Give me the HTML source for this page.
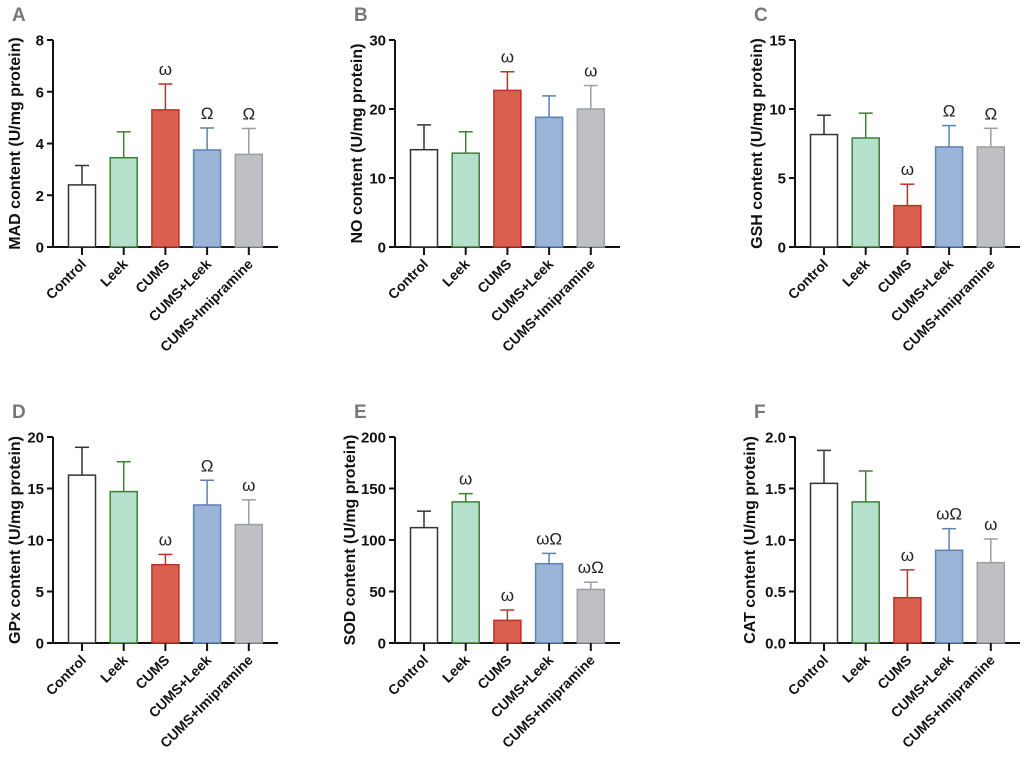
<!DOCTYPE html>
<html><head><meta charset="utf-8"><style>
body{margin:0;background:#fff}
svg{display:block;font-family:"Liberation Sans",Arial,sans-serif}
</style></head><body>
<svg id="s" width="1024" height="767"></svg>
<script>
const categories=["Control","Leek","CUMS","CUMS+Leek","CUMS+Imipramine"];
const panelLetters=["A","B","C","D","E","F"];
const yTitles=["MAD content (U/mg protein)","NO content (U/mg protein)","GSH content (U/mg protein)","GPx content (U/mg protein)","SOD content (U/mg protein)","CAT content (U/mg protein)"];
const yMax=[8,30,15,20,200,2];
const yTicks=[["0","2","4","6","8"],["0","10","20","30"],["0","5","10","15"],["0","5","10","15","20"],["0","50","100","150","200"],["0.0","0.5","1.0","1.5","2.0"]];
const meanA=[2.4,3.45,5.3,3.75,3.58], errA=[0.75,1.0,1.0,0.85,1.0], annA=["","","ω","Ω","Ω"];
const meanB=[14.1,13.6,22.7,18.8,20.0], errB=[3.6,3.1,2.7,3.1,3.4], annB=["","","ω","","ω"];
const meanC=[8.15,7.9,3.0,7.25,7.25], errC=[1.4,1.8,1.55,1.55,1.35], annC=["","","ω","Ω","Ω"];
const meanD=[16.3,14.7,7.6,13.4,11.5], errD=[2.7,2.9,1.0,2.4,2.4], annD=["","","ω","Ω","ω"];
const meanE=[112,137,22,77,52], errE=[16,8,10,10,7], annE=["","ω","ω","ωΩ","ωΩ"];
const meanF=[1.55,1.37,0.44,0.90,0.78], errF=[0.32,0.30,0.27,0.21,0.23], annF=["","","ω","ωΩ","ω"];
const means=[meanA,meanB,meanC,meanD,meanE,meanF];
const errs=[errA,errB,errC,errD,errE,errF];
const anns=[annA,annB,annC,annD,annE,annF];
const fills=["#ffffff","#b5e0cb","#d9604f","#9bb5d8","#bec0c3"];
const strokes=["#333333","#3d7f37","#c0302a","#5b82b3","#9c9ea0"];
const NS="http://www.w3.org/2000/svg";
const svgEl=document.getElementById('s');
function mk(t,a,p){const e=document.createElementNS(NS,t);for(const k in a)e.setAttribute(k,a[k]);(p||svgEl).appendChild(e);return e;}
const axX=[53,395,795], topY=[40,437], zeroY=[247,643];
for(let p=0;p<6;p++){
  const col=p%3,row=Math.floor(p/3);
  const x0=axX[col],yt=topY[row],yz=zeroY[row];
  const g=mk('g',{});
  
  
  const y=v=>yz-(v/yMax[p])*(yz-yt);
  const bx=i=>x0+29+i*41.7;
  const L=mk('text',{x:x0-41,y:yt-19,'font-size':19,'font-weight':'bold',fill:'#777'},g);L.textContent=panelLetters[p];
  
  
  mk('line',{x1:x0,y1:yt,x2:x0,y2:yz,stroke:'#111','stroke-width':2},g);
  mk('line',{x1:x0,y1:yz,x2:x0+225,y2:yz,stroke:'#111','stroke-width':2},g);
  const tk=yTicks[p];
  tk.forEach((t,i)=>{const v=yMax[p]*i/(tk.length-1);const yy=y(v);
    mk('line',{x1:x0-6,y1:yy,x2:x0,y2:yy,stroke:'#111','stroke-width':2},g);
    const tx=mk('text',{x:x0-9,y:yy+5.5,'font-size':15,'font-weight':'bold','text-anchor':'end',fill:'#111'},g);tx.textContent=t;
    
    });
  const yc=(yt+yz)/2;
  const tx0=x0-(tk[tk.length-1].length>2?40:33);
  const tt=mk('text',{x:tx0,y:yc,'font-size':16,'font-weight':'bold','text-anchor':'middle',fill:'#111',transform:`rotate(-90 ${tx0} ${yc})`},g);tt.textContent=yTitles[p];
  
  
  categories.forEach((c,i)=>{
    const cx=bx(i),m=means[p][i],e=errs[p][i];
    mk('line',{x1:cx,y1:y(m),x2:cx,y2:y(m+e),stroke:strokes[i],'stroke-width':1.5},g);
    mk('line',{x1:cx-7,y1:y(m+e),x2:cx+7,y2:y(m+e),stroke:strokes[i],'stroke-width':1.5},g);
    const r=mk('rect',{x:cx-13.5,y:y(m),width:27,height:yz-y(m),fill:fills[i],stroke:strokes[i],'stroke-width':1.5},g);
    
    
    if(anns[p][i]){const a=mk('text',{x:cx,y:y(m+e)-9,'font-size':17,'text-anchor':'middle',fill:'#222'},g);a.textContent=anns[p][i];
      
      }
    mk('line',{x1:cx,y1:yz,x2:cx,y2:yz+8,stroke:'#111','stroke-width':2},g);
    const lx=cx+5,ly=yz+18;
    const xl=mk('text',{x:lx,y:ly,'font-size':14,'font-weight':'bold','text-anchor':'end',fill:'#111',transform:`rotate(-45 ${lx} ${ly})`},g);xl.textContent=c;
    
    
  });
}
</script>
</body></html>
